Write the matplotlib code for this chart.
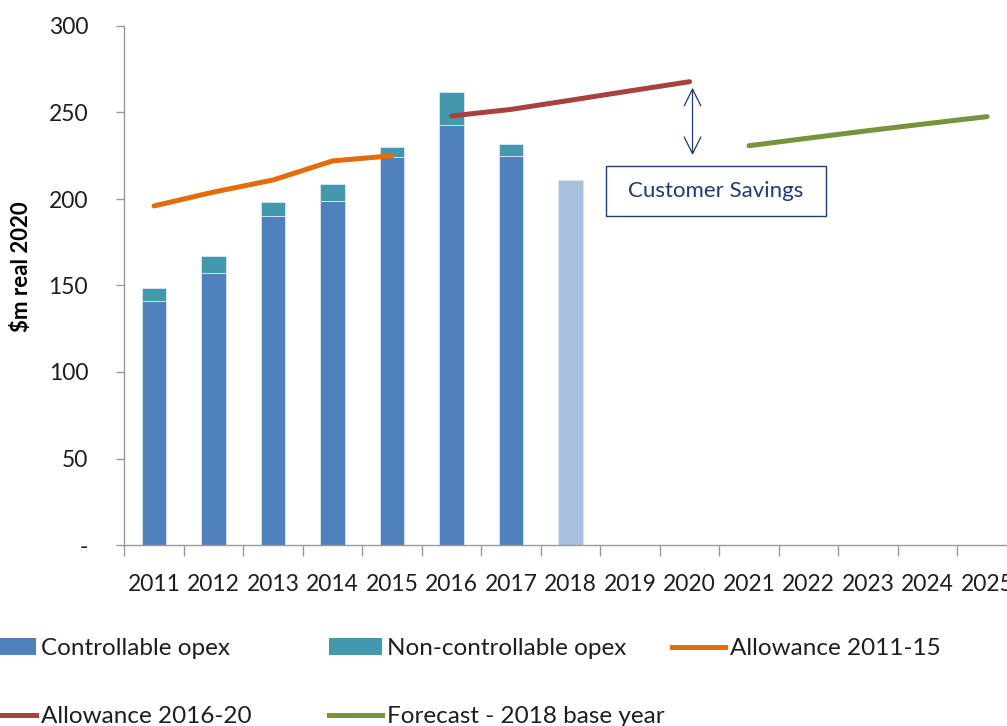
import numpy as np
import matplotlib.pyplot as plt
from matplotlib.lines import Line2D
from matplotlib.patches import Patch, Rectangle

plt.rcParams['font.family'] = ['Lato', 'DejaVu Sans']

years = [str(y) for y in range(2011, 2026)]

# opex history ($m real 2020)
controllable = [141, 157.5, 190, 199, 224.5, 243, 225]
non_controllable = [7.5, 9.5, 8, 9.5, 5.5, 19, 7]
estimate_2018 = [211]

allowance_11_15 = [196, 204, 211, 222, 225]
allowance_16_20 = [248, 251.8, 257.1, 262.5, 267.8]
forecast_2018 = [230.8, 235.2, 239.5, 243.6, 247.6]

c_ctrl = '#4F81BD'
c_nonctrl = '#4398AE'
c_est = '#A7C0DE'
c_orange = '#E46C0A'
c_red = '#A8423F'
c_green = '#77933C'
c_navy = '#1F3B73'
c_text = '#1E1E1E'
c_axis = '#999999'

x = np.arange(len(years))
W, H = 1007, 726
fig = plt.figure(figsize=(W / 100, H / 100), dpi=100)
ax = fig.add_axes([124.3 / W, (H - 545) / H, 15 * 59.5 / W, 519 / H])

bw = 0.41
ax.bar(x[:7], controllable, bw, color=c_ctrl, edgecolor='#DCE6F2', linewidth=0.6, zorder=2)
ax.bar(x[:7], non_controllable, bw, bottom=controllable, color=c_nonctrl,
       edgecolor='#DCE6F2', linewidth=0.6, zorder=2)
ax.bar(x[7:8], estimate_2018, bw, color=c_est, edgecolor='#DCE6F2', linewidth=0.6, zorder=2)

lw = 3.6
ax.plot(x[0:5], allowance_11_15, color=c_orange, lw=lw, solid_capstyle='round', zorder=3)
ax.plot(x[5:10], allowance_16_20, color=c_red, lw=lw, solid_capstyle='round', zorder=3)
ax.plot(x[10:15], forecast_2018, color=c_green, lw=lw, solid_capstyle='round', zorder=3)

# savings arrow between 2016-20 allowance and forecast
ax.annotate('', xy=(9.05, 264.3), xytext=(9.05, 225.4),
            arrowprops=dict(arrowstyle='<->', color=c_navy, lw=0.9,
                            mutation_scale=30, shrinkA=0, shrinkB=0))
ax.add_patch(Rectangle((7.59, 190.3), 3.71, 28.9, fill=False,
                       edgecolor=c_navy, lw=1.0, zorder=4))
ax.text(9.445, 204.5, 'Customer Savings', ha='center', va='center',
        fontsize=16, color=c_navy, zorder=5)

ax.set_xlim(-0.5, 14.5)
ax.set_ylim(0, 300)
ax.set_yticks(np.arange(0, 301, 50))
ax.set_yticklabels(['-'] + [str(v) for v in range(50, 301, 50)])
ax.set_xticks(x)
ax.set_xticklabels(years)
ax.set_xticks(np.arange(-0.5, 15, 1), minor=True)
ax.tick_params(axis='x', which='major', length=0, pad=21, labelsize=16.5, labelcolor=c_text)
ax.tick_params(axis='x', which='minor', length=8, width=1, color=c_axis)
ax.tick_params(axis='y', length=6, width=1, color=c_axis, pad=20,
               labelsize=16.5, labelcolor=c_text)
for s in ['top', 'right']:
    ax.spines[s].set_visible(False)
for s in ['left', 'bottom']:
    ax.spines[s].set_color(c_axis)
    ax.spines[s].set_linewidth(1)

fig.text(22 / W, 1 - 267 / H, '$m real 2020', rotation=90, ha='center', va='center',
         fontsize=16, fontweight='bold', color='black')

h_ctrl = Patch(facecolor=c_ctrl)
h_nonctrl = Patch(facecolor=c_nonctrl)
h_or = Line2D([], [], color=c_orange, lw=lw)
h_red = Line2D([], [], color=c_red, lw=lw)
h_gr = Line2D([], [], color=c_green, lw=lw)

leg_kw = dict(loc='upper left', frameon=False, fontsize=17.5, borderpad=0,
              borderaxespad=0, handlelength=2.18, handletextpad=0.2,
              labelspacing=1.95, labelcolor=c_text)
top = 1 - 638 / H
fig.legend([h_ctrl, h_red], ['Controllable opex', 'Allowance 2016-20'],
           bbox_to_anchor=(-17 / W, top), **leg_kw)
fig.legend([h_nonctrl, h_gr], ['Non-controllable opex', 'Forecast - 2018 base year'],
           bbox_to_anchor=(329 / W, top), **leg_kw)
fig.legend([h_or], ['Allowance 2011-15'],
           bbox_to_anchor=(672 / W, top), **leg_kw)

fig.savefig('out.png', dpi=100)
